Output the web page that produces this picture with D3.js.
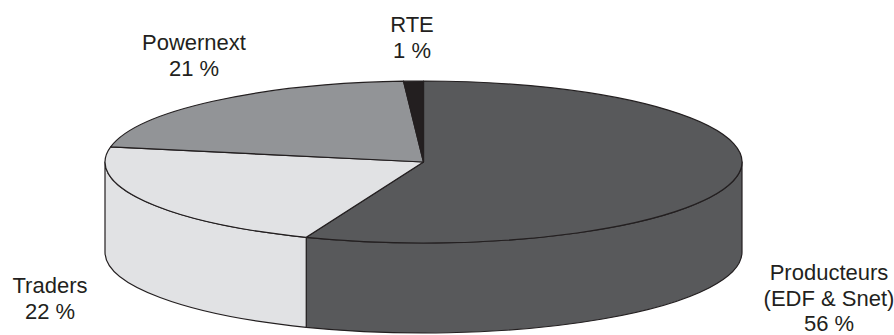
<!DOCTYPE html>
<html>
<head>
<meta charset="utf-8">
<script src="https://cdn.jsdelivr.net/npm/d3@7"></script>
<style>
  body { margin: 0; background: #fff; }
  text { font-family: "Liberation Sans", Arial, sans-serif; font-size: 22px; fill: #231f20; }
</style>
</head>
<body>
<div id="chart"></div>
<script>
var svgWidth = 894;
var svgHeight = 335;

// data
var names = ["Producteurs", "Traders", "Powernext", "RTE"];
var labelLines = [["Producteurs", "(EDF & Snet)", "56 %"], ["Traders", "22 %"], ["Powernext", "21 %"], ["RTE", "1 %"]];
var shares = [56, 22, 21, 1];
var colors = ["#58595b", "#e1e2e4", "#929497", "#231f20"];

// layout of the 3D disc
var cx = 423.5, cy = 162, rx = 318.5, ry = 81, depth = 90;
// label anchors (centre x, first baseline)
var labelPos = [[829, 280], [50, 293], [194, 50], [412, 32]];
var lineGap = 25.5;

var svg = d3.select("#chart")
  .append("svg")
  .attr("width", svgWidth)
  .attr("height", svgHeight);

var pie = d3.pie().sort(null).value(d => d);
var arcs = pie(shares);

// angle measured clockwise from 12 o'clock
function pt(a, dy) {
  return [cx + rx * Math.sin(a), cy - ry * Math.cos(a) + (dy || 0)];
}

function topPath(d) {
  var p0 = pt(d.startAngle), p1 = pt(d.endAngle);
  var large = (d.endAngle - d.startAngle) > Math.PI ? 1 : 0;
  return `M${cx},${cy}L${p0}A${rx},${ry} 0 ${large} 1 ${p1}Z`;
}

function sidePath(a0, a1) {
  var p0 = pt(a0), p1 = pt(a1), q0 = pt(a0, depth), q1 = pt(a1, depth);
  return `M${p0}A${rx},${ry} 0 0 1 ${p1}L${q1}A${rx},${ry} 0 0 0 ${q0}Z`;
}

// visible walls: the front half, PI/2 .. 3PI/2
var walls = arcs.map(function(d, i) {
  var a0 = Math.max(d.startAngle, Math.PI / 2);
  var a1 = Math.min(d.endAngle, 3 * Math.PI / 2);
  return {i: i, a0: a0, a1: a1};
}).filter(w => w.a1 > w.a0);

svg.append("g").selectAll("path")
  .data(walls)
  .enter()
  .append("path")
  .attr("d", w => sidePath(w.a0, w.a1))
  .attr("fill", w => colors[w.i])
  .attr("stroke", "#231f20")
  .attr("stroke-width", 1.2)
  .attr("stroke-linejoin", "round");

svg.append("g").selectAll("path")
  .data(arcs)
  .enter()
  .append("path")
  .attr("d", topPath)
  .attr("fill", (d, i) => colors[i])
  .attr("stroke", "#231f20")
  .attr("stroke-width", 1.2)
  .attr("stroke-linejoin", "round");

// labels
var labels = svg.append("g").selectAll("text")
  .data(labelLines)
  .enter()
  .append("text")
  .attr("text-anchor", "middle")
  .attr("x", (d, i) => labelPos[i][0])
  .attr("y", (d, i) => labelPos[i][1]);

labels.selectAll("tspan")
  .data((d, i) => d.map(t => ({t: t, i: i})))
  .enter()
  .append("tspan")
  .attr("x", d => labelPos[d.i][0])
  .attr("dy", (d, j) => j === 0 ? 0 : lineGap)
  .text(d => d.t);
</script>
</body>
</html>
